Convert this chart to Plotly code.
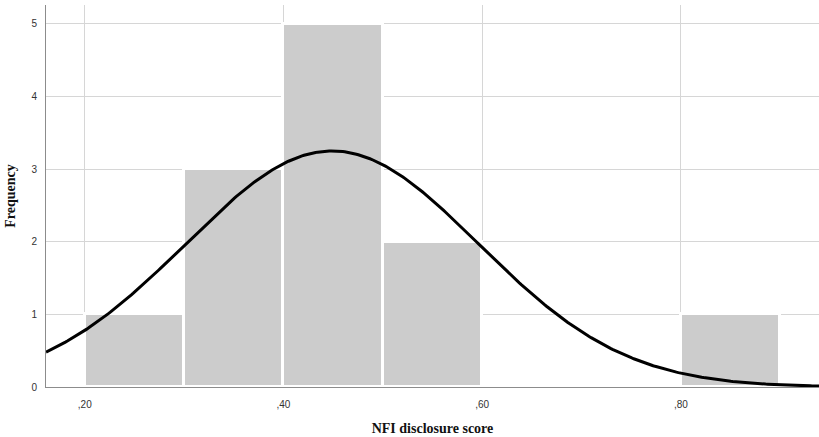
import numpy as np
import plotly.graph_objects as go

bin_left = [0.20, 0.30, 0.40, 0.50, 0.80]
bin_right = [0.30, 0.40, 0.50, 0.60, 0.90]
counts = [1, 3, 5, 2, 1]
x_tick_vals = [0.20, 0.40, 0.60, 0.80]
x_tick_text = [",20", ",40", ",60", ",80"]
y_tick_vals = [0, 1, 2, 3, 4, 5]
fit_mean = 0.449
fit_sd = 0.1473
bin_width = 0.1

n_total = sum(counts)
centers = [(a + b) / 2 for a, b in zip(bin_left, bin_right)]
widths = [b - a for a, b in zip(bin_left, bin_right)]

xs = np.linspace(0.161, 0.94, 400)
ys = n_total * bin_width / (fit_sd * np.sqrt(2 * np.pi)) * np.exp(-0.5 * ((xs - fit_mean) / fit_sd) ** 2)

fig = go.Figure()
fig.add_trace(go.Bar(x=centers, y=counts, width=widths,
                     marker=dict(color="#cccccc", line=dict(color="white", width=3)),
                     showlegend=False, hoverinfo="skip"))
fig.add_trace(go.Scatter(x=xs, y=ys, mode="lines", line=dict(color="black", width=3),
                         showlegend=False, hoverinfo="skip"))

fig.update_layout(
    width=819, height=437,
    margin=dict(l=46, r=0, t=5, b=50),
    plot_bgcolor="white", paper_bgcolor="white",
    bargap=0,
    xaxis=dict(range=[0.161, 0.939], tickvals=x_tick_vals, ticktext=x_tick_text,
               showgrid=True, gridcolor="#d6d6d6", gridwidth=1,
               showline=True, linecolor="#8c8c8c", linewidth=1, zeroline=False,
               ticks="", ticklabelstandoff=8,
               tickfont=dict(family="Liberation Sans, Arial", size=10, color="#333333"),
               title=dict(text="<b>NFI disclosure score</b>", standoff=14,
                          font=dict(family="Liberation Serif, Times New Roman", size=14, color="#111111"))),
    yaxis=dict(range=[0, 5.26], tickvals=y_tick_vals,
               showgrid=True, gridcolor="#d6d6d6", gridwidth=1,
               showline=True, linecolor="#8c8c8c", linewidth=1, zeroline=False,
               ticks="", ticklabelstandoff=6,
               tickfont=dict(family="Liberation Sans, Arial", size=10, color="#333333"),
               title=dict(text="<b>Frequency</b>", standoff=12,
                          font=dict(family="Liberation Serif, Times New Roman", size=14, color="#111111"))),
)

fig.write_html("out.html")
